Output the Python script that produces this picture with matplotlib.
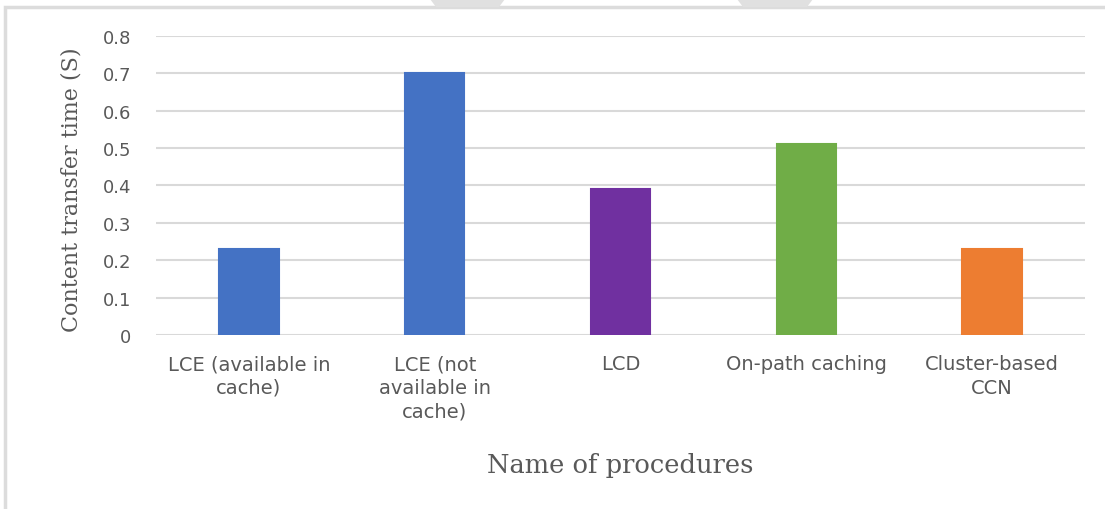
import matplotlib

matplotlib.use("Agg")
import matplotlib.pyplot as plt
from matplotlib.patches import Polygon, Rectangle

categories = [
    "LCE (available in\ncache)",
    "LCE (not\navailable in\ncache)",
    "LCD",
    "On-path caching",
    "Cluster-based\nCCN",
]
transfer_time = [0.23, 0.70, 0.39, 0.51, 0.23]
bar_colors = ["#4472C4", "#4472C4", "#7030A0", "#70AD47", "#ED7D31"]
yticks = [0, 0.1, 0.2, 0.3, 0.4, 0.5, 0.6, 0.7, 0.8]
ytick_labels = ["0", "0.1", "0.2", "0.3", "0.4", "0.5", "0.6", "0.7", "0.8"]

fig = plt.figure(figsize=(11.05, 5.10), dpi=100)
ax = fig.add_axes([0.1412, 0.3412, 0.8407, 0.5863])

# page frame and faint shapes along the top edge
fig.patches.append(Rectangle((5 / 1105, -0.1), 1.2, 1 - 8 / 510 + 0.1, transform=fig.transFigure,
                             fill=False, edgecolor="#dcdcdc", lw=2.5))
for x0, x1 in [(430, 505), (737, 813)]:
    fig.patches.append(Polygon([(x0 / 1105, 1), (x1 / 1105, 1), ((x1 - 6) / 1105, 1 - 8 / 510),
                                ((x0 + 6) / 1105, 1 - 8 / 510)], closed=True,
                               transform=fig.transFigure, facecolor="#e0e0e0", edgecolor="none"))

x = range(len(categories))
ax.bar(x, transfer_time, width=0.32, color=bar_colors, edgecolor=bar_colors,
       linewidth=1.5, zorder=3)
ax.set_xlim(-0.5, len(categories) - 0.5)
ax.set_ylim(0, 0.8)
ax.set_yticks(yticks)
ax.set_yticklabels(ytick_labels)
ax.set_xticks(list(x))
ax.set_xticklabels(categories, linespacing=1.3)
ax.grid(axis="y", color="#d9d9d9", lw=1.5, zorder=0)
ax.set_axisbelow(True)
for s in ax.spines.values():
    s.set_visible(False)
ax.tick_params(length=0, labelcolor="#595959")
ax.tick_params(axis="y", pad=18, labelsize=13)
ax.tick_params(axis="x", pad=14, labelsize=14)

ax.set_ylabel("Content transfer time (S)", family="DejaVu Serif", fontsize=16,
              color="#595959")
ax.yaxis.set_label_coords(-0.079, 0.49)
fig.text(0.561, 1 - 466 / 510, "Name of procedures", family="DejaVu Serif", fontsize=18.5,
         color="#595959", ha="center", va="center")

fig.savefig("out.png", dpi=100)
